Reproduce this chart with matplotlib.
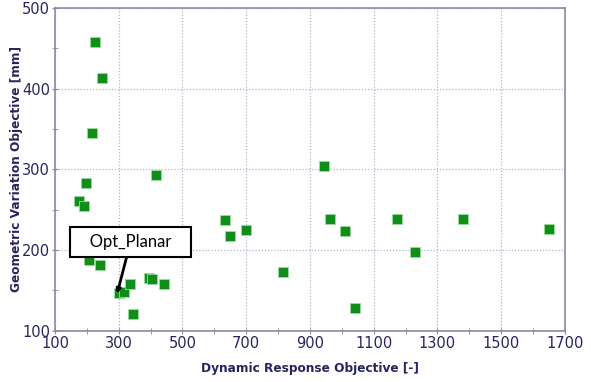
import matplotlib.pyplot as plt

# dynamic response objective [-]
dyn = [225, 247, 216, 197, 175, 191, 417, 207, 241, 300, 316, 335, 344, 396,
       405, 443, 633, 650, 698, 815, 945, 962, 1009, 1041, 1173, 1228, 1379, 1650]
# geometric variation objective [mm]
geo = [458, 413, 345, 283, 261, 255, 293, 188, 181, 147, 148, 158, 121, 166,
       164, 158, 237, 218, 225, 173, 304, 239, 224, 128, 238, 198, 239, 226]

navy = "#26265e"
spine = "#8a88a8"

fig = plt.figure(figsize=(5.91, 3.82), dpi=100)
ax = fig.add_axes([0.093, 0.134, 0.863, 0.845])

ax.scatter(dyn, geo, marker="s", s=44, color="#0f8f1a", edgecolors="#9fd99f",
           linewidths=0.6, zorder=3)

ax.set_xlim(100, 1700)
ax.set_ylim(100, 500)
ax.set_xticks(range(100, 1701, 200))
ax.set_xticks(range(200, 1701, 200), minor=True)
ax.set_yticks(range(100, 501, 100))
ax.set_yticks(range(150, 500, 100), minor=True)

ax.grid(True, which="major", linestyle=(0, (1, 1.5)), color="#b3b1d2", linewidth=0.9)
ax.set_axisbelow(True)

for s in ax.spines.values():
    s.set_color(spine)
    s.set_linewidth(1.2)

ax.tick_params(which="both", direction="inout", colors=spine, labelcolor=navy,
               labelsize=10.5, length=4, pad=1.5)

ax.set_xlabel("Dynamic Response Objective [-]", color=navy, fontsize=8.7,
              fontweight="bold", labelpad=8)
ax.set_ylabel("Geometric Variation Objective [mm]", color=navy, fontsize=8.7,
              fontweight="bold")
ax.yaxis.set_label_coords(-0.062, 0.5)

ax.annotate("   Opt_Planar   ", xy=(295, 146), xytext=(337, 210),
            fontsize=12, family="Lato", ha="center", va="center", zorder=5,
            bbox=dict(boxstyle="square,pad=0.4", fc="white", ec="black", lw=1.5),
            arrowprops=dict(arrowstyle="-|>", color="black", lw=2,
                            mutation_scale=6, shrinkA=0, shrinkB=0))

fig.savefig("out.png")
